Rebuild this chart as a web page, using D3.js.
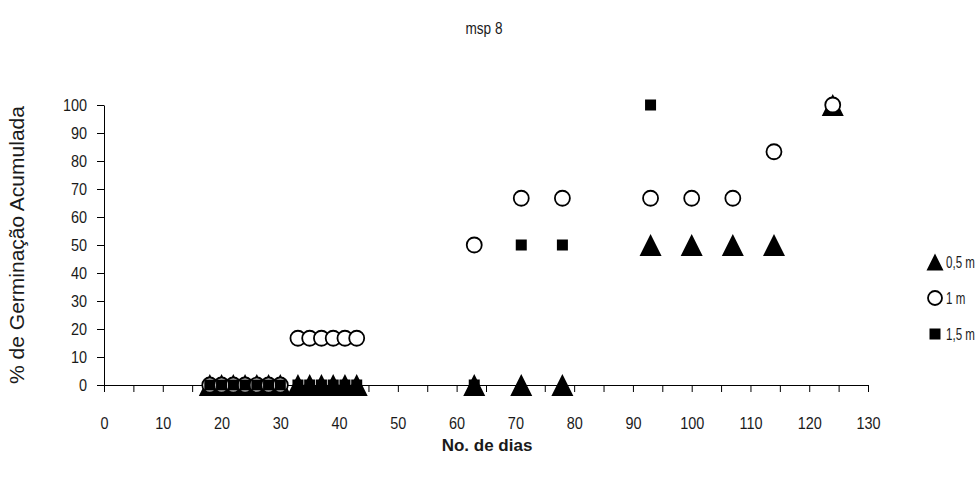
<!DOCTYPE html>
<html>
<head>
<meta charset="utf-8">
<script src="https://cdn.jsdelivr.net/npm/d3@7"></script>
<style>
  html, body { margin: 0; padding: 0; background: #fff; }
  svg text { font-family: "Liberation Sans", Arial, sans-serif; fill: #1a1a1a; }
</style>
</head>
<body>
<svg id="chart" width="975" height="482"></svg>
<script>
// Cumulative germination (%) by day for three depths
const days05 = [18, 20, 22, 24, 26, 28, 30, 33, 35, 37, 39, 41, 43, 63, 71, 78, 93, 100, 107, 114, 124];
const germ05 = [0, 0, 0, 0, 0, 0, 0, 0, 0, 0, 0, 0, 0, 0, 0, 0, 50, 50, 50, 50, 100];

const days1 = [18, 20, 22, 24, 26, 28, 30, 33, 35, 37, 39, 41, 43, 63, 71, 78, 93, 100, 107, 114, 124];
const germ1 = [0, 0, 0, 0, 0, 0, 0, 16.7, 16.7, 16.7, 16.7, 16.7, 16.7, 50, 66.7, 66.7, 66.7, 66.7, 66.7, 83.3, 100];

const days15 = [18, 20, 22, 24, 26, 28, 30, 33, 35, 37, 39, 41, 43, 63, 71, 78, 93];
const germ15 = [0, 0, 0, 0, 0, 0, 0, 0, 0, 0, 0, 0, 0, 0, 50, 50, 100];

const seriesNames = ["0,5 m", "1 m", "1,5 m"];
const xTicks = d3.range(0, 131, 5);
const yTicks = d3.range(0, 101, 10);

const chartTitle = "msp 8";
const xTitle = "No. de dias";
const yTitle = "% de Germinação Acumulada";

const svg = d3.select("#chart");
const x = d3.scaleLinear().domain([0, 130]).range([104, 868]);
const y = d3.scaleLinear().domain([0, 100]).range([385, 105]);

// Condensed look for the labels: squeeze glyphs horizontally
const squeeze = 0.85;

// Marker shapes
const triPath = s => `M0,${-s / 2}L${s / 2},${s / 2}L${-s / 2},${s / 2}Z`;
const markers = {
  tri: (g, s) => g.append("path").attr("d", triPath(s)).attr("fill", "#000"),
  circ: (g, s) => g.append("circle").attr("r", s / 2).attr("fill", "#fff").attr("stroke", "#000").attr("stroke-width", 1.8),
  sq: (g, s) => g.append("rect").attr("x", -s / 2).attr("y", -s / 2).attr("width", s).attr("height", s).attr("fill", "#000")
};

// Axes
const xAxis = d3.axisBottom(x).tickValues(xTicks).tickSize(7).tickSizeOuter(0).tickPadding(25)
  .tickFormat(d => d % 10 === 0 ? d : "");
const gx = svg.append("g").attr("transform", `translate(0,${y(0)})`).call(xAxis);

const yAxis = d3.axisLeft(y).tickValues(yTicks).tickSize(7).tickSizeOuter(0).tickPadding(13);
const gy = svg.append("g").attr("transform", `translate(${x(0)},0)`).call(yAxis);

[gx, gy].forEach(g => {
  g.selectAll(".domain").attr("stroke", "#000").attr("stroke-width", 1);
  g.selectAll(".tick line").attr("stroke", "#000").attr("stroke-width", 1);
  g.selectAll(".tick text").attr("font-size", 17).attr("fill", "#1a1a1a")
    .attr("font-family", "Liberation Sans, Arial, sans-serif")
    .attr("transform", `scale(${squeeze},1)`);
});

// Data points, drawn in series order
const series = [
  { days: days05, vals: germ05, shape: "tri", size: 22 },
  { days: days1, vals: germ1, shape: "circ", size: 15 },
  { days: days15, vals: germ15, shape: "sq", size: 11 }
];
series.forEach(s => {
  const g = svg.append("g");
  s.days.forEach((d, i) => {
    const m = g.append("g").attr("transform", `translate(${x(d)},${y(s.vals[i])})`);
    markers[s.shape](m, s.size);
  });
});

// Titles
svg.append("text").attr("transform", `translate(484,34) scale(0.8,1)`).attr("text-anchor", "middle")
  .attr("font-size", 17).text(chartTitle);
svg.append("text").attr("x", 487).attr("y", 451).attr("text-anchor", "middle")
  .attr("font-size", 17).attr("font-weight", "bold").text(xTitle);
svg.append("text").attr("transform", `translate(24,${(y(0) + y(100)) / 2}) rotate(-90)`)
  .attr("text-anchor", "middle").attr("font-size", 21).text(yTitle);

// Legend
const legendY = [262, 298, 334];
const legendShapes = [["tri", 17], ["circ", 14], ["sq", 11]];
seriesNames.forEach((name, i) => {
  const m = svg.append("g").attr("transform", `translate(935,${legendY[i]})`);
  markers[legendShapes[i][0]](m, legendShapes[i][1]);
  svg.append("text").attr("transform", `translate(946,${legendY[i] + 6}) scale(0.7,1)`)
    .attr("font-size", 16.5).text(name);
});
</script>
</body>
</html>
